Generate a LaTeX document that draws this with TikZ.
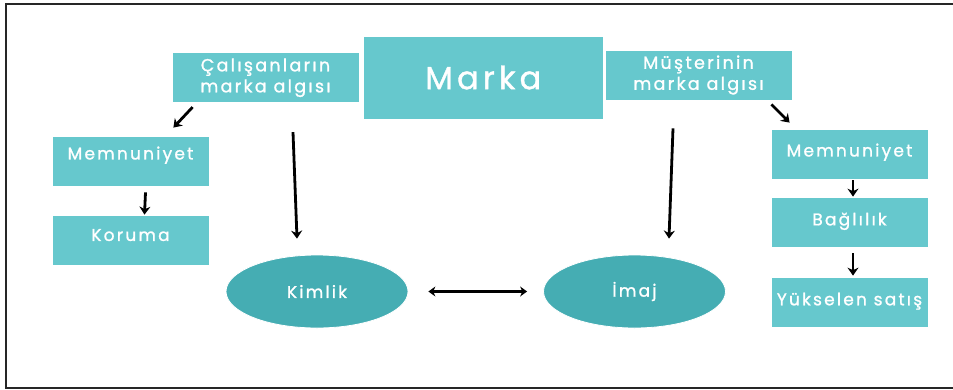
\documentclass[tikz,border=0pt]{standalone}
\usepackage{fontspec}
\setmainfont{Poppins}
\newfontfamily\wide[LetterSpace=13,FakeBold=1.2]{Poppins}
\usepackage{tikz}
\usetikzlibrary{arrows,arrows.meta,shapes.geometric}

\definecolor{boxteal}{HTML}{66C8CD}
\definecolor{ovalteal}{HTML}{45ADB3}

\begin{document}
\begin{tikzpicture}[x=1pt,y=-1pt,
  box/.style={fill=boxteal,draw=white,line width=0.8pt,text=white,inner sep=0pt,
    minimum width=157pt,minimum height=50pt,font=\wide\fontsize{17}{20}\selectfont},
  oval/.style={ellipse,fill=ovalteal,draw=white,line width=0.8pt,text=white,inner sep=0pt,
    minimum width=182pt,minimum height=73pt,font=\wide\fontsize{17}{20}\selectfont},
  arr/.style={-{Stealth[length=8pt,width=11pt]},line width=2.8pt,black}]
\useasboundingbox (0,0) rectangle (953,389);
\draw[line width=2pt,black!85] (953,4) -- (6,4) -- (6,388) -- (953,388);

% top row
\node[box,minimum width=240pt,minimum height=83pt,font=\wide\fontsize{32}{34}\selectfont] (marka) at (483.3,77.5) {Marka};
\node[box,minimum width=187pt,align=center,font=\wide\fontsize{17.5}{21}\selectfont] (calisan) at (265.5,77.7) {Çalışanların\\marka algısı};
\node[box,minimum width=187pt,align=center,font=\wide\fontsize{17.5}{21}\selectfont] (musteri) at (698.5,75) {Müşterinin\\marka algısı};

% left column
\node[box,text depth=16pt] (memL) at (130.5,161) {Memnuniyet};
\node[box,text depth=10pt] (koruma) at (130.5,240) {Koruma};

% ovals
\node[oval] (kimlik) at (317,291.5) {Kimlik};
\node[oval] (imaj) at (634.5,291.5) {İmaj};

% right column
\node[box,text depth=8pt] (memR) at (849.5,154) {Memnuniyet};
\node[box,text depth=6pt] (baglilik) at (849.5,222) {Bağlılık};
\node[box,text depth=6pt] (yuksel) at (849.5,302) {Yükselen satış};

% arrows
\draw[arr] ([xshift=21pt,yshift=-4pt]calisan.south west) -- ([xshift=-36pt,yshift=8pt]memL.north east);
\draw[arr] ([xshift=15pt,yshift=-6pt]memL.south) -- ([xshift=14pt]koruma.north);
\draw[arr] ([xshift=27.5pt,yshift=-29pt]calisan.south) -- ([xshift=-20pt,yshift=16pt]kimlik.north);
\draw[arr] ([xshift=-25.5pt,yshift=-28pt]musteri.south) -- ([xshift=34.5pt,yshift=16pt]imaj.north);
\draw[arr] ([xshift=-21pt,yshift=-4pt]musteri.south east) -- ([xshift=19pt,yshift=6pt]memR.north west);
\draw[arr] ([xshift=3.5pt,yshift=-1pt]memR.south) -- ([xshift=3.5pt]baglilik.north);
\draw[arr] ([xshift=3.5pt,yshift=-6pt]baglilik.south) -- ([xshift=3.5pt,yshift=1pt]yuksel.north);
\draw[{Stealth[length=7pt,width=10pt]}-{Stealth[length=7pt,width=10pt]},line width=2.2pt,shorten <=20pt,shorten >=16pt] (kimlik.east) -- (imaj.west);
\end{tikzpicture}
\end{document}
